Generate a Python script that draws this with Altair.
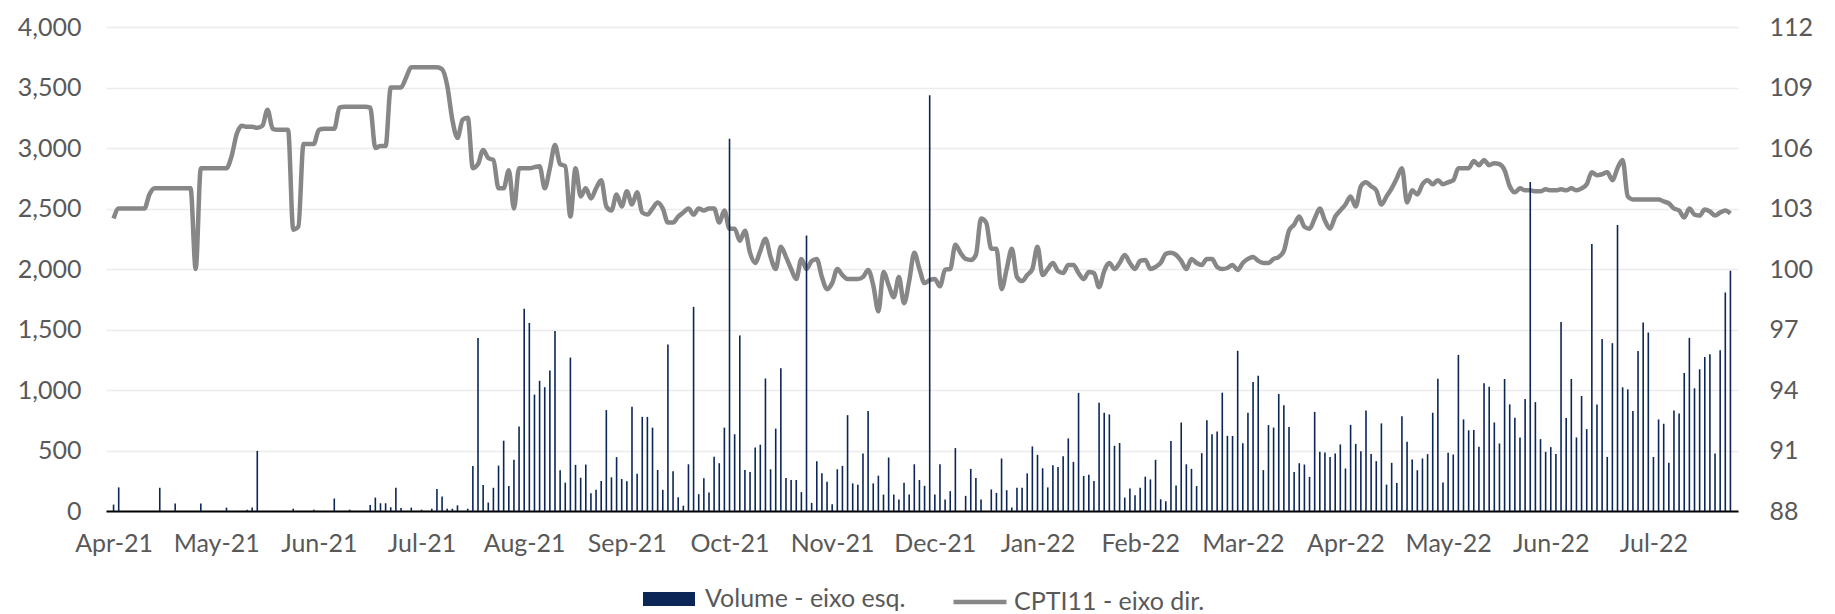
import altair as alt
import pandas as pd

months = ["Apr-21", "May-21", "Jun-21", "Jul-21", "Aug-21", "Sep-21", "Oct-21", "Nov-21",
          "Dec-21", "Jan-22", "Feb-22", "Mar-22", "Apr-22", "May-22", "Jun-22", "Jul-22"]

volume = [
    53, 195, 0, 0, 0, 0, 0, 0, 0, 192,
    0, 0, 61, 0, 0, 0, 0, 61, 0, 0,
    0, 0, 28, 0, 0, 0, 11, 28, 497, 0,
    0, 0, 0, 0, 0, 19, 0, 0, 0, 11,
    0, 0, 0, 103, 0, 0, 11, 0, 0, 0,
    50, 111, 64, 64, 31, 192, 25, 0, 28, 0,
    11, 0, 19, 181, 120, 19, 19, 47, 0, 19,
    372, 1429, 214, 70, 192, 375, 581, 206, 423, 698,
    1671, 1554, 962, 1076, 1023, 1162, 1487, 336, 234, 1268,
    381, 275, 384, 147, 175, 247, 834, 278, 445, 264,
    246, 862, 307, 778, 778, 689, 339, 175, 1376, 328,
    114, 44, 386, 1687, 139, 270, 153, 448, 395, 689,
    3077, 634, 1451, 339, 322, 525, 548, 1095, 345, 681,
    1179, 272, 256, 256, 156, 2276, 67, 411, 311, 242,
    56, 345, 373, 792, 228, 217, 476, 826, 228, 292,
    136, 442, 136, 95, 234, 136, 386, 256, 208, 3436,
    136, 386, 95, 164, 520, 0, 125, 348, 272, 95,
    0, 178, 150, 434, 172, 28, 192, 192, 311, 534,
    464, 353, 195, 378, 364, 453, 600, 406, 976, 289,
    300, 247, 895, 812, 798, 539, 562, 111, 186, 131,
    192, 284, 261, 423, 97, 81, 578, 211, 731, 386,
    348, 206, 478, 750, 634, 658, 978, 621, 620, 1324,
    560, 811, 1066, 1118, 338, 710, 690, 967, 875, 695,
    323, 395, 384, 282, 819, 489, 483, 447, 475, 550,
    351, 712, 555, 494, 831, 472, 412, 724, 218, 398,
    232, 784, 572, 425, 337, 434, 470, 812, 1094, 235,
    481, 467, 1290, 757, 667, 670, 530, 1055, 1027, 732,
    558, 1091, 881, 771, 608, 925, 2720, 900, 594, 489,
    528, 472, 1561, 768, 1091, 608, 950, 677, 2207, 881,
    1422, 447, 1387, 2364, 1022, 1005, 826, 1323, 1558, 1475,
    447, 757, 721, 398, 831, 806, 1141, 1431, 1014, 1171,
    1273, 1295, 475, 1329, 1806, 1986,
]

cpti11 = [
    102.5, 103.0, 103.0, 103.0, 103.0, 103.0, 103.0, 103.7, 104.0, 104.0,
    104.0, 104.0, 104.0, 104.0, 104.0, 104.0, 100.0, 105.0, 105.0, 105.0,
    105.0, 105.0, 105.0, 105.6, 106.7, 107.1, 107.05, 107.05, 107.0, 107.1,
    107.9, 106.95, 106.9, 106.9, 106.9, 101.95, 102.1, 106.2, 106.2, 106.2,
    106.9, 106.95, 106.95, 106.95, 108.0, 108.05, 108.05, 108.05, 108.05, 108.05,
    108.0, 106.0, 106.1, 106.1, 109.0, 109.0, 109.0, 109.5, 110.0, 110.0,
    110.0, 110.0, 110.0, 110.0, 109.9, 109.1, 107.4, 106.5, 107.4, 107.5,
    105.0, 105.2, 105.9, 105.5, 105.4, 104.0, 104.0, 104.9, 103.0, 105.0,
    105.0, 105.0, 105.05, 105.1, 104.0, 105.0, 106.15, 105.2, 105.1, 102.6,
    105.0, 103.6, 104.0, 103.5, 104.0, 104.4, 103.1, 102.9, 103.7, 103.1,
    103.85, 103.2, 103.8, 102.8, 102.7, 103.0, 103.3, 103.0, 102.3, 102.3,
    102.6, 102.8, 103.0, 102.7, 103.0, 102.9, 103.0, 103.0, 102.3, 102.9,
    102.0, 102.0, 101.4, 101.9, 100.8, 100.3, 100.9, 101.5, 100.6, 100.0,
    101.1, 100.6, 100.0, 99.5, 100.5, 100.0, 100.4, 100.5, 99.6, 99.0,
    99.3, 100.0, 99.7, 99.5, 99.5, 99.5, 99.6, 99.95, 99.2, 97.9,
    99.85, 99.2, 98.6, 99.6, 98.3, 99.4, 100.8, 100.0, 99.3, 99.45,
    99.5, 99.14, 99.97, 100.0, 101.2, 100.8, 100.5, 100.45, 100.7, 102.5,
    102.3, 101.0, 101.0, 99.0, 100.0, 101.0, 99.6, 99.4, 99.7, 100.0,
    101.1, 99.7, 100.0, 100.3, 99.9, 99.8, 100.2, 100.2, 99.8, 99.5,
    99.85, 99.8, 99.1, 99.9, 100.3, 100.0, 100.3, 100.7, 100.3, 100.0,
    100.4, 100.45, 100.0, 100.1, 100.3, 100.75, 100.8, 100.7, 100.4, 100.0,
    100.5, 100.3, 100.2, 100.5, 100.5, 100.1, 100.0, 100.05, 100.2, 99.95,
    100.3, 100.5, 100.6, 100.4, 100.3, 100.3, 100.5, 100.6, 100.9, 101.9,
    102.2, 102.6, 102.1, 102.0, 102.5, 103.0, 102.4, 102.0, 102.6, 102.9,
    103.2, 103.6, 103.1, 104.1, 104.3, 104.1, 103.9, 103.2, 103.6, 104.0,
    104.5, 105.0, 103.3, 103.9, 103.7, 104.2, 104.4, 104.2, 104.4, 104.2,
    104.3, 104.4, 105.0, 105.0, 105.0, 105.35, 105.15, 105.4, 105.15, 105.25,
    105.2, 104.9, 104.1, 103.8, 104.0, 103.9, 103.9, 103.85, 103.85, 103.95,
    103.9, 103.9, 103.95, 103.9, 104.0, 103.9, 104.0, 104.2, 104.8, 104.65,
    104.7, 104.8, 104.4, 105.0, 105.4, 103.6, 103.45, 103.45, 103.45, 103.45,
    103.45, 103.45, 103.35, 103.25, 103.0, 102.9, 102.55, 103.0, 102.7, 102.65,
    102.95, 102.85, 102.65, 102.8, 102.9, 102.75,
]

n = len(volume)
df = pd.DataFrame({"i": list(range(n)), "volume": volume, "cpti11": cpti11[:n]})

FONT = "Lato"
LABEL = "#595959"
FS = 25
label_expr = "[" + ",".join("'%s'" % m for m in months) + "][round(datum.value / 20)]"

x_enc = alt.X(
    "i:Q",
    scale=alt.Scale(domain=[-0.5, n - 0.5], nice=False, zero=False),
    axis=alt.Axis(
        values=[20 * k for k in range(len(months))],
        labelExpr=label_expr,
        title=None,
        grid=False,
        ticks=False,
        domainColor="#000000",
        domainWidth=2,
        labelFontSize=FS,
        labelColor=LABEL,
        labelFont=FONT,
        labelPadding=20,
        labelOverlap=False,
    ),
)

line = (
    alt.Chart(df)
    .transform_calculate(series="'CPTI11 - eixo dir.'")
    .mark_line(strokeWidth=4.5, interpolate="monotone")
    .encode(
        x=x_enc,
        y=alt.Y(
            "cpti11:Q",
            scale=alt.Scale(domain=[88, 112], nice=False, zero=False),
            axis=alt.Axis(
                orient="right",
                values=list(range(88, 113, 3)),
                title=None,
                grid=False,
                domain=False,
                ticks=False,
                labelFontSize=FS,
                labelColor=LABEL,
                labelFont=FONT,
                labelPadding=31,
            ),
        ),
        stroke=alt.Stroke(
            "series:N",
            scale=alt.Scale(domain=["CPTI11 - eixo dir."], range=["#878787"]),
            legend=alt.Legend(
                title=None,
                orient="none",
                legendX=845,
                legendY=546,
                symbolType="stroke",
                symbolStrokeWidth=4.5,
                symbolSize=2809,
                labelFontSize=FS,
                labelColor=LABEL,
                labelFont=FONT,
                labelOffset=5,
                labelLimit=400,
                padding=0,
            ),
        ),
    )
)

bars = (
    alt.Chart(df)
    .transform_calculate(series="'Volume - eixo esq.'")
    .mark_bar(size=1.6)
    .encode(
        x=x_enc,
        y=alt.Y(
            "volume:Q",
            scale=alt.Scale(domain=[0, 4000], nice=False),
            axis=alt.Axis(
                orient="left",
                values=list(range(0, 4001, 500)),
                format=",d",
                title=None,
                grid=True,
                gridColor="#ececec",
                gridWidth=1.5,
                domain=False,
                ticks=False,
                labelFontSize=FS,
                labelColor=LABEL,
                labelFont=FONT,
                labelPadding=25,
            ),
        ),
        fill=alt.Fill(
            "series:N",
            scale=alt.Scale(domain=["Volume - eixo esq."], range=["#0c2657"]),
            legend=alt.Legend(
                title=None,
                orient="none",
                legendX=537,
                legendY=546,
                symbolType="M-1,-0.27H1V0.27H-1Z",
                symbolSize=2704,
                symbolStrokeWidth=0,
                labelFontSize=FS,
                labelColor=LABEL,
                labelFont=FONT,
                labelOffset=10,
                labelLimit=400,
                padding=0,
            ),
        ),
    )
)

chart = (
    alt.layer(line, bars)
    .resolve_scale(y="independent")
    .properties(
        width=1632,
        height=484,
        autosize=alt.AutoSizeParams(type="none"),
        padding={"left": 98, "top": 19, "right": 85, "bottom": 103},
    )
    .configure_view(stroke=None)
)

chart.save("out.html", embed_options={"renderer": "svg", "actions": False})
